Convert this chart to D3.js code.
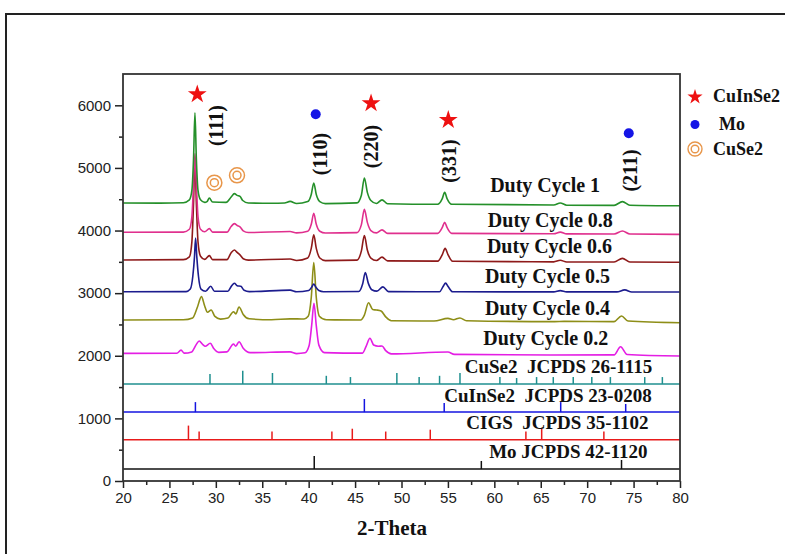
<!DOCTYPE html>
<html>
<head>
<meta charset="utf-8">
<script src="https://cdn.jsdelivr.net/npm/d3@7"></script>
<style>
body{margin:0;background:#fff;}
svg text{font-family:"Liberation Serif","Times New Roman",serif;}
.tick text{font-family:"Liberation Sans",Arial,sans-serif;}
</style>
</head>
<body>
<div id="chart"></div>
<script>
// XRD patterns: [2-theta, intensity]
var dc1 = [[20,4440],[24,4438],[26.5,4445],[27.15,4490],[27.42,4640],[27.6,5150],[27.75,5880],[27.9,5150],[28.08,4640],[28.35,4490],[28.8,4450],[29.05,4462],[29.3,4520],[29.65,4455],[31.1,4450],[31.65,4535],[32.0,4590],[32.3,4562],[32.6,4545],[32.9,4480],[33.5,4440],[36,4435],[37.4,4440],[38.0,4465],[38.7,4432],[39.9,4462],[40.28,4575],[40.55,4760],[40.82,4575],[41.2,4462],[41.8,4430],[45.2,4442],[45.68,4565],[46.0,4840],[46.32,4610],[46.7,4480],[47.3,4432],[47.9,4490],[48.5,4428],[53.9,4420],[54.38,4505],[54.65,4610],[54.92,4505],[55.4,4420],[66.4,4408],[67.1,4440],[67.8,4405],[72.9,4402],[73.8,4462],[74.6,4405],[80,4395]];
var dc08 = [[20,3972],[26.5,3975],[27.15,4020],[27.42,4220],[27.6,4750],[27.75,5230],[27.9,4750],[28.08,4220],[28.35,4020],[28.8,3980],[29.3,4030],[29.65,3975],[31.2,3975],[31.65,4065],[32.0,4110],[32.3,4080],[32.6,4060],[32.95,3995],[33.5,3968],[38,3985],[38.7,3962],[39.9,3988],[40.28,4100],[40.55,4275],[40.82,4100],[41.2,3988],[41.8,3960],[45.2,3967],[45.68,4095],[46.0,4340],[46.32,4130],[46.7,4000],[47.3,3962],[47.9,4010],[48.5,3955],[53.9,3955],[54.38,4045],[54.65,4130],[54.92,4045],[55.4,3955],[66.4,3948],[67.1,3975],[67.8,3946],[72.9,3944],[73.8,3992],[74.6,3944],[80,3938]];
var dc06 = [[20,3530],[26.5,3535],[27.15,3580],[27.42,3820],[27.6,4450],[27.75,5150],[27.9,4450],[28.08,3820],[28.35,3590],[28.8,3540],[29.3,3600],[29.65,3535],[31.2,3535],[31.65,3645],[32.0,3690],[32.3,3650],[32.6,3612],[32.95,3550],[33.5,3528],[38,3545],[38.7,3522],[39.9,3562],[40.28,3715],[40.55,3930],[40.82,3715],[41.2,3562],[41.8,3520],[45.2,3527],[45.68,3675],[46.0,3920],[46.32,3690],[46.7,3560],[47.3,3522],[47.9,3575],[48.5,3515],[53.9,3512],[54.42,3625],[54.7,3715],[54.98,3625],[55.5,3510],[66.4,3500],[67.1,3525],[67.8,3498],[72.9,3498],[73.8,3556],[74.6,3497],[80,3493]];
var dc05 = [[20,3023],[26.8,3025],[27.25,3065],[27.52,3270],[27.7,3580],[27.82,3880],[27.95,3580],[28.13,3270],[28.4,3065],[28.9,3030],[29.45,3110],[29.85,3030],[31.3,3030],[31.68,3112],[32.0,3157],[32.3,3120],[32.7,3110],[33.05,3045],[33.6,3025],[38,3048],[38.7,3022],[40.0,3042],[40.32,3095],[40.55,3146],[40.78,3095],[41.1,3042],[41.6,3022],[45.4,3026],[45.82,3150],[46.1,3330],[46.42,3160],[46.8,3055],[47.35,3032],[48.0,3100],[48.6,3025],[54.1,3022],[54.48,3105],[54.75,3160],[55.02,3105],[55.5,3022],[66.4,3020],[67.1,3040],[67.8,3020],[73.2,3020],[74.05,3052],[74.8,3019],[80,3018]];
var dc04 = [[20,2571],[26.5,2575],[27.5,2605],[28.0,2770],[28.45,2945],[28.8,2795],[29.1,2695],[29.5,2731],[29.9,2628],[30.5,2585],[31.3,2602],[31.9,2704],[32.15,2668],[32.5,2780],[32.95,2660],[33.6,2590],[36,2575],[38,2590],[39.5,2588],[39.95,2630],[40.28,2930],[40.55,3487],[40.82,2930],[41.15,2632],[41.9,2575],[45.6,2572],[46.0,2650],[46.45,2847],[46.9,2738],[47.3,2731],[47.8,2715],[48.3,2622],[48.9,2560],[53.5,2555],[55.0,2598],[55.6,2575],[56.3,2604],[57,2560],[66.5,2545],[67.5,2550],[72.9,2545],[73.7,2635],[74.4,2555],[80,2528]];
var dc02 = [[20,2039],[25.8,2040],[26.25,2090],[26.6,2042],[27.4,2062],[27.9,2182],[28.2,2236],[28.6,2178],[28.85,2152],[29.4,2199],[29.8,2112],[30.3,2055],[31.2,2062],[31.9,2188],[32.15,2152],[32.5,2225],[32.95,2120],[33.7,2050],[38,2062],[38.7,2035],[39.6,2048],[40.05,2165],[40.32,2480],[40.57,2838],[40.82,2480],[41.1,2170],[41.7,2050],[45.8,2042],[46.2,2155],[46.6,2280],[47.0,2172],[47.5,2152],[47.9,2156],[48.3,2082],[48.9,2030],[55,2060],[55.7,2022],[66,2012],[72.9,2015],[73.6,2145],[74.3,2020],[80,1996]];

var seriesNames = ["Duty Cycle 1","Duty Cycle 0.8","Duty Cycle 0.6","Duty Cycle 0.5","Duty Cycle 0.4","Duty Cycle 0.2"];

// reference cards: [2-theta, stick height]
var cuse2Ref = [[29.37,160],[32.9,210],[36.1,175],[41.9,130],[44.5,110],[49.5,175],[51.9,110],[54.1,130],[56.3,175],[60.6,110],[62.4,95],[64.55,110],[66.35,110],[68.5,110],[70.5,110],[72.5,110],[76.2,110],[78.1,110]];
var cuinse2Ref = [[27.8,160],[46.0,210],[54.6,145],[67.15,160],[74.15,130]];
var cigsRef = [[27.05,225],[28.2,130],[36.05,130],[42.5,130],[44.7,175],[48.3,130],[53.1,160],[63.4,130],[65.1,190],[71.8,130]];
var moRef = [[40.6,210],[58.6,130],[73.7,145]];
var refBaselines = [1550, 1100, 660, 190];
var refNames = ["CuSe2  JCPDS 26-1115","CuInSe2  JCPDS 23-0208","CIGS  JCPDS 35-1102","Mo JCPDS 42-1120"];

var yTicks = [0,1000,2000,3000,4000,5000,6000];
var xTicks = [20,25,30,35,40,45,50,55,60,65,70,75,80];

// layout / style
var W = 785, H = 554;
var lineColors = ["#25902a","#e0308e","#8e1a1a","#1c1c8e","#8e8e18","#e41ee4"];
var refColors = ["#1f8f8f","#1414e0","#e81a1a","#111"];
// label anchors in data units [2theta, intensity]
var seriesLabelPos = [[59.55,4620],[59.3,4061],[59.2,3646],[59.0,3157],[59.0,2651],[58.8,2172]];
var refLabelPos = [[77.0,1720],[76.95,1266],[76.6,826],[76.5,363]];
var hklLabels = [["(111)",30.02,5677],["(110)",41.22,5222],["(220)",46.72,5342],["(331)",55.12,5110],["(211)",74.62,4959]];
var starMarks = [[28.0,6176],[46.72,6032],[55.04,5765]];
var dotMarks = [[40.76,5856],[74.48,5553]];
var ringMarks = [[29.84,4764],[32.28,4882]];

var svg = d3.select("#chart").append("svg").attr("width", W).attr("height", H);

// outer frame
svg.append("rect").attr("x", 6).attr("y", 14).attr("width", 900).attr("height", 700)
  .attr("fill", "none").attr("stroke", "#222").attr("stroke-width", 2);

var x = d3.scaleLinear().domain([20, 80]).range([123, 680]);
var y = d3.scaleLinear().domain([0, 6500]).range([481, 74]);

var line = d3.line().x(function(d){return x(d[0]);}).y(function(d){return y(d[1]);}).curve(d3.curveMonotoneX);

// reference sticks
[cuse2Ref, cuinse2Ref, cigsRef, moRef].forEach(function(ref, i){
  var b = refBaselines[i];
  var g = svg.append("g").attr("stroke", refColors[i]).attr("stroke-width", 1.5);
  g.append("line").attr("x1", x(20)).attr("x2", x(80)).attr("y1", y(b)).attr("y2", y(b));
  g.selectAll(".stick").data(ref).enter().append("line")
    .attr("x1", function(d){return x(d[0]);}).attr("x2", function(d){return x(d[0]);})
    .attr("y1", y(b)).attr("y2", function(d){return y(b + d[1]);});
  svg.append("text").attr("x", x(refLabelPos[i][0])).attr("y", y(refLabelPos[i][1]))
    .attr("text-anchor", "end").attr("font-size", "19px").attr("font-weight", "bold")
    .style("white-space", "pre").attr("fill", "#111").text(refNames[i]);
});

// XRD curves, bottom first so the upper traces sit on top
var allSeries = [dc1, dc08, dc06, dc05, dc04, dc02];
for (var k = allSeries.length - 1; k >= 0; k--) {
  svg.append("path").datum(allSeries[k]).attr("d", line).attr("fill", "none")
    .attr("stroke", lineColors[k]).attr("stroke-width", 1.6).attr("stroke-linejoin", "round");
}

seriesNames.forEach(function(n, i){
  svg.append("text").attr("x", x(seriesLabelPos[i][0])).attr("y", y(seriesLabelPos[i][1]))
    .attr("font-size", "20px").attr("font-weight", "bold").attr("fill", "#111").text(n);
});

// hkl labels
hklLabels.forEach(function(h){
  svg.append("text")
    .attr("transform", "translate(" + x(h[1]) + "," + y(h[2]) + ") rotate(-90)")
    .attr("text-anchor", "middle").attr("dy", "0.35em")
    .attr("font-size", "20px").attr("font-weight", "bold").attr("fill", "#111").text(h[0]);
});

// phase markers
var star = d3.symbol().type(d3.symbolStar);
svg.selectAll(".star").data(starMarks).enter().append("path")
  .attr("d", star.size(110)())
  .attr("transform", function(d){return "translate(" + x(d[0]) + "," + y(d[1]) + ")";})
  .attr("fill", "#ee1111");
svg.selectAll(".dot").data(dotMarks).enter().append("circle")
  .attr("cx", function(d){return x(d[0]);}).attr("cy", function(d){return y(d[1]);})
  .attr("r", 5).attr("fill", "#1515e6");
ringMarks.forEach(function(d){
  [7.5, 4].forEach(function(r){
    svg.append("circle").attr("cx", x(d[0])).attr("cy", y(d[1])).attr("r", r)
      .attr("fill", "none").attr("stroke", "#e8964a").attr("stroke-width", 1.5);
  });
});

// axes
svg.append("g").attr("transform", "translate(" + x(20) + ",0)")
  .call(d3.axisLeft(y).tickValues(yTicks).tickSize(8).tickPadding(4).tickFormat(d3.format("d")));
svg.append("g").attr("transform", "translate(0," + y(0) + ")")
  .call(d3.axisBottom(x).tickValues(xTicks).tickSize(7).tickPadding(4).tickFormat(d3.format("d")));
svg.append("g").attr("transform", "translate(" + x(20) + ",0)")
  .call(d3.axisLeft(y).tickValues(d3.range(500, 6500, 1000)).tickSize(4).tickFormat(""));
svg.append("g").attr("transform", "translate(0," + y(0) + ")")
  .call(d3.axisBottom(x).tickValues(d3.range(22.5, 80, 5)).tickSize(4).tickFormat(""));
svg.selectAll(".domain").remove();
svg.selectAll(".tick line").attr("stroke", "#222").attr("stroke-width", 1.5);
svg.selectAll(".tick text").attr("font-size", "15px").attr("fill", "#222");
svg.append("rect").attr("x", x(20)).attr("y", y(6500)).attr("width", x(80) - x(20)).attr("height", y(0) - y(6500))
  .attr("fill", "none").attr("stroke", "#333").attr("stroke-width", 1.8);

svg.append("text").attr("x", 392).attr("y", 535).attr("text-anchor", "middle")
  .attr("font-size", "21px").attr("font-weight", "bold").attr("fill", "#111").text("2-Theta");

// legend
var lg = svg.append("g");
lg.append("path").attr("d", star.size(72)()).attr("transform", "translate(695,97)").attr("fill", "#ee1111");
lg.append("circle").attr("cx", 695).attr("cy", 124.5).attr("r", 4.5).attr("fill", "#1515e6");
[7, 3.8].forEach(function(r){
  lg.append("circle").attr("cx", 695).attr("cy", 149).attr("r", r).attr("fill", "none")
    .attr("stroke", "#e8964a").attr("stroke-width", 1.4);
});
[["CuInSe2", 713, 102], ["Mo", 719, 129.5], ["CuSe2", 713, 155]].forEach(function(t){
  lg.append("text").attr("x", t[1]).attr("y", t[2]).attr("font-size", "18px")
    .attr("font-weight", "bold").attr("fill", "#111").text(t[0]);
});
</script>
</body>
</html>
